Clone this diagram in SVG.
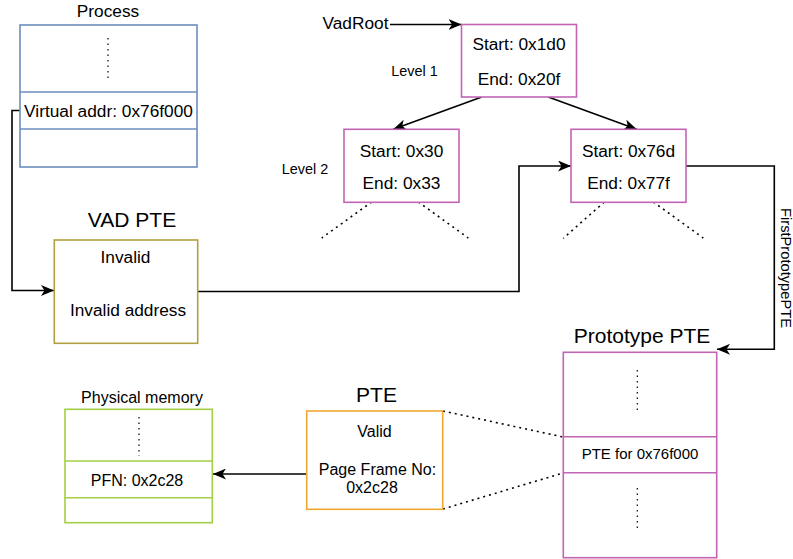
<svg xmlns="http://www.w3.org/2000/svg" width="793" height="559" viewBox="0 0 793 559">
<style>
text{font-family:"Liberation Sans",Arial,Helvetica,sans-serif;fill:#000;}
.c{text-anchor:middle;}
.f17{font-size:17.3px;}
.f16{font-size:16px;}
.f15{font-size:15px;}
.f14{font-size:14.4px;}
.f21{font-size:21px;}
.box{fill:#fff;stroke-width:1.6;}
.blue{stroke:#6c8ebf;}
.olive{stroke:#b0a040;}
.pink{stroke:#c264b4;}
.orange{stroke:#f0a830;}
.green{stroke:#a3cf45;}
.conn{fill:none;stroke:#000;stroke-width:1.6;}
.dots{fill:none;stroke:#000;stroke-width:1.6;stroke-dasharray:2 4;}
.vdots{fill:none;stroke:#000;stroke-width:1.2;stroke-dasharray:1.5 4;}
</style>
<defs>
<marker id="arr" viewBox="0 0 13 11" refX="13" refY="5.5" markerWidth="13" markerHeight="11" markerUnits="userSpaceOnUse" orient="auto">
<path d="M0,0 L13,5.5 L0,11 L3.5,5.5 Z" fill="#000"/>
</marker>
</defs>
<rect width="793" height="559" fill="#fff"/>

<g id="connectors">
<path class="conn" d="M20,110.5 H12 V290.5 H54" marker-end="url(#arr)"/>
<path class="conn" d="M197.7,291.5 H519 V166 H571" marker-end="url(#arr)"/>
<path class="conn" d="M390,24.5 H461.5" marker-end="url(#arr)"/>
<path class="conn" d="M481.7,97 L393.3,129.3" marker-end="url(#arr)"/>
<path class="conn" d="M548.3,97 L636.7,129.3" marker-end="url(#arr)"/>
<path class="conn" d="M686,166 H774.3 V349.3 H717" marker-end="url(#arr)"/>
<path class="conn" d="M306.7,474 H213" marker-end="url(#arr)"/>
<path class="dots" d="M371.7,202 L321.7,238 M418.3,202 L468.3,238"/>
<path class="dots" d="M604.3,202 L563.3,238.3 M653.3,202 L703.3,238"/>
<path class="dots" d="M443,411 L563,437 M443,509 L563,473"/>
<text class="f14" transform="translate(781,268) rotate(90)" text-anchor="middle" textLength="120" lengthAdjust="spacingAndGlyphs">FirstPrototypePTE</text>
</g>

<g id="process">
<text class="c f17" x="108" y="17.3">Process</text>
<rect class="box blue" x="20" y="25" width="177" height="142"/>
<line class="blue" x1="20" y1="92" x2="197" y2="92" stroke-width="1.6"/>
<line class="blue" x1="20" y1="129" x2="197" y2="129" stroke-width="1.6"/>
<line class="vdots" x1="108" y1="38" x2="108" y2="80"/>
<text class="c f17" x="108.5" y="116.7">Virtual addr: 0x76f000</text>
</g>

<g id="vadroot-label">
<text class="c f17" x="355.5" y="28.5">VadRoot</text>
<text class="c f14" x="414.5" y="76">Level 1</text>
<text class="c f14" x="305" y="174">Level 2</text>
</g>

<g id="root">
<rect class="box pink" x="461.5" y="24.5" width="115" height="72.5"/>
<text class="c f17" x="519" y="50">Start: 0x1d0</text>
<text class="c f17" x="519" y="84.8">End: 0x20f</text>
</g>

<g id="level2-left">
<rect class="box pink" x="344" y="129.3" width="115" height="73"/>
<text class="c f17" x="401.5" y="156.5">Start: 0x30</text>
<text class="c f17" x="401.5" y="189">End: 0x33</text>
</g>

<g id="level2-right">
<rect class="box pink" x="571" y="129.3" width="115" height="73"/>
<text class="c f17" x="628.5" y="156.5">Start: 0x76d</text>
<text class="c f17" x="628.5" y="189">End: 0x77f</text>
</g>

<g id="vad-pte">
<text class="c f21" x="132" y="226.7">VAD PTE</text>
<rect class="box olive" x="54.3" y="240" width="143.4" height="103.3"/>
<text class="c f17" x="125.5" y="263.3">Invalid</text>
<text class="c f17" x="128" y="316">Invalid address</text>
</g>

<g id="prototype-pte">
<text class="c f21" x="642" y="343.3">Prototype PTE</text>
<rect class="box pink" x="563.3" y="352.3" width="153.4" height="205.4"/>
<line class="pink" x1="563.3" y1="436.7" x2="716.7" y2="436.7" stroke-width="1.6"/>
<line class="pink" x1="563.3" y1="472.7" x2="716.7" y2="472.7" stroke-width="1.6"/>
<line class="vdots" x1="637.3" y1="370" x2="637.3" y2="411"/>
<line class="vdots" x1="637.3" y1="488" x2="637.3" y2="530"/>
<text class="c f15" x="640" y="459.3">PTE for 0x76f000</text>
</g>

<g id="pte">
<text class="c f21" x="376.5" y="401.7">PTE</text>
<rect class="box orange" x="306.7" y="411" width="136" height="98.3"/>
<text class="c f16" x="374.5" y="436.7">Valid</text>
<text class="c f16" x="377.5" y="475">Page Frame No:</text>
<text class="c f16" x="372" y="493.3">0x2c28</text>
</g>

<g id="physical-memory">
<text class="c f16" x="142" y="402.5">Physical memory</text>
<rect class="box green" x="65" y="409.3" width="147.3" height="113.4"/>
<line class="green" x1="65" y1="461" x2="212.3" y2="461" stroke-width="1.6"/>
<line class="green" x1="65" y1="497.7" x2="212.3" y2="497.7" stroke-width="1.6"/>
<line class="vdots" x1="139" y1="417" x2="139" y2="456"/>
<text class="c f16" x="137" y="486">PFN: 0x2c28</text>
</g>
</svg>
